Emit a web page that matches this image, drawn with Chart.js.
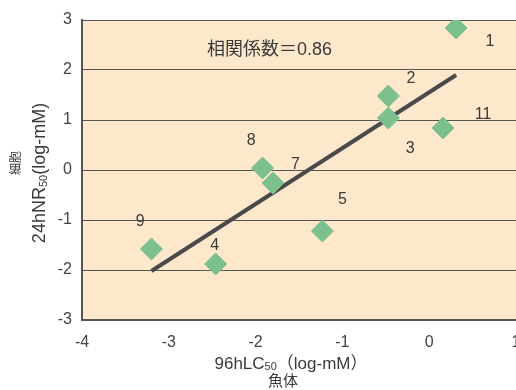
<!DOCTYPE html>
<html><head><meta charset="utf-8">
<style>html,body{margin:0;padding:0;background:#fff;overflow:hidden;width:516px;height:390px}
#wrap{width:540px;height:390px;position:relative}</style>
<script src="https://cdn.jsdelivr.net/npm/chart.js@4"></script>
</head><body><div id="wrap"><canvas id="c"></canvas></div>
<script>
const pointIds = ['1','2','3','11','8','7','5','9','4'];
const fishLC50 = [0.31,-0.47,-0.47,0.16,-1.92,-1.80,-1.23,-3.20,-2.46];
const cellNR50 = [2.84,1.48,1.04,0.84,0.04,-0.26,-1.22,-1.58,-1.88];
const labelX = [0.70,-0.21,-0.22,0.62,-2.05,-1.54,-1.00,-3.33,-2.47];
const labelY = [2.56,1.82,0.42,1.10,0.58,0.10,-0.60,-1.04,-1.52];
const fitX = [-3.20,0.31];
const fitY = [-2.02,1.90];
const xTicks = [-4,-3,-2,-1,0,1];
const yTicks = [-3,-2,-1,0,1,2,3];
const corrText = '相関係数＝0.86';
const corrPos = [-1.84,2.40];

const FONT = "'Liberation Sans','Noto Sans CJK JP',sans-serif";

const bgPlugin = {
  id:'bg',
  beforeDraw(ch){
    const a=ch.chartArea, c=ch.ctx;
    c.save(); c.fillStyle='#fde8cc'; c.fillRect(a.left,a.top,a.right-a.left,a.bottom-a.top); c.restore();
  },
  afterDatasetsDraw(ch){
    const c=ch.ctx, xs=ch.scales.x, ys=ch.scales.y;
    c.save();
    c.fillStyle='#3a3a3a'; c.font='16px '+FONT; c.textAlign='center'; c.textBaseline='middle';
    pointIds.forEach((t,i)=>c.fillText(t, xs.getPixelForValue(labelX[i]), ys.getPixelForValue(labelY[i])));
    c.font='18px '+FONT;
    c.fillText(corrText, xs.getPixelForValue(corrPos[0]), ys.getPixelForValue(corrPos[1]));
    const drawSub=(parts,x,y)=>{
      let w=0; parts.forEach(p=>{c.font=p[1]+'px '+FONT; w+=c.measureText(p[0]).width;});
      let cx=x-w/2; c.textAlign='left';
      parts.forEach(p=>{c.font=p[1]+'px '+FONT; c.fillText(p[0],cx,y+(p[2]||0)); cx+=c.measureText(p[0]).width;});
      c.textAlign='center';
    };
    drawSub([['96hLC',17],['50',11,3],['（log-mM）',17]], 291, 364);
    c.font='15px '+FONT; c.fillText('魚体', 283, 382);
    c.save(); c.translate(40,173); c.rotate(-Math.PI/2);
    drawSub([['24hNR',18],['50',11,4],['(log-mM)',18]],0,0);
    c.restore();
    c.save(); c.translate(17,163); c.rotate(-Math.PI/2);
    c.font='12px '+FONT; c.fillText('細胞',0,0);
    c.restore();
    c.restore();
  }
};

new Chart(document.getElementById('c'),{
  type:'scatter',
  data:{datasets:[
    {type:'line',data:fitX.map((x,i)=>({x,y:fitY[i]})),borderColor:'#4a4a4a',borderWidth:4,pointRadius:0,fill:false,order:2},
    {data:fishLC50.map((x,i)=>({x,y:cellNR50[i]})),pointStyle:'rectRot',pointRadius:11,pointHoverRadius:11,backgroundColor:'#7cc08e',borderColor:'#7cc08e',borderWidth:1,order:1}
  ]},
  options:{
    responsive:true,maintainAspectRatio:false,animation:false,
    events:[],
    layout:{padding:{top:20,right:24,left:0,bottom:0}},
    plugins:{legend:{display:false},tooltip:{enabled:false}},
    scales:{
      x:{type:'linear',min:-4,max:1,
        afterBuildTicks(s){s.ticks=xTicks.map(v=>({value:v}));},
        afterFit(s){s.height=70;},
        grid:{display:false,drawTicks:false},
        border:{display:true,color:'#555',width:2},
        ticks:{padding:13,color:'#444',font:{family:FONT,size:16}}},
      y:{type:'linear',min:-3,max:3,
        afterBuildTicks(s){s.ticks=yTicks.map(v=>({value:v}));},
        afterFit(s){s.width=82;},
        grid:{color:'#555',lineWidth:1,drawTicks:false},
        border:{display:true,color:'#555',width:2},
        ticks:{padding:10,color:'#444',font:{family:FONT,size:16}}}
    }
  },
  plugins:[bgPlugin]
});
</script></body></html>
